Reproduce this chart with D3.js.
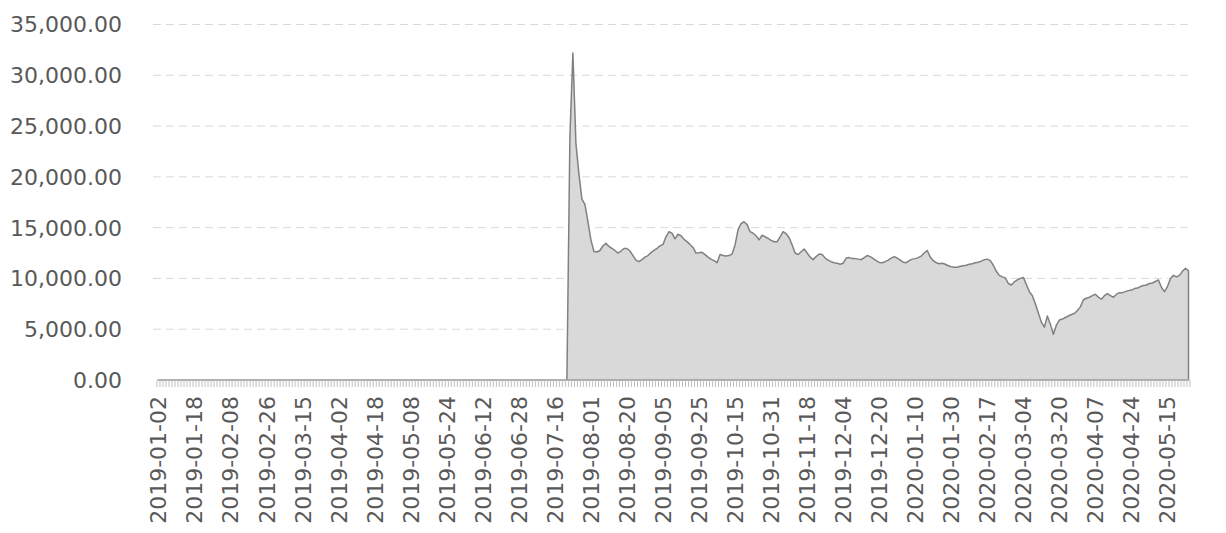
<!DOCTYPE html>
<html lang="en">
<head>
    <meta charset="UTF-8">
    <title>Price</title>
    <style>
        body { margin: 0; background: #fff; }
        text { font-family: "DejaVu Sans", sans-serif; font-size: 22px; fill: #595959; }
        .grid line { stroke: #d9d9d9; stroke-width: 1; stroke-dasharray: 8 5; }
    </style>
</head>
<body>
    <script src="https://cdn.jsdelivr.net/npm/d3@7/dist/d3.min.js"></script>
    <script>
        // trading calendar (KRX): weekdays between these dates, minus closed days
        var firstDay = "2019-01-02";
        var lastDay = "2020-05-26";
        var holidays = [
            "2019-02-04", "2019-02-05", "2019-02-06", "2019-03-01", "2019-05-01", "2019-05-06",
            "2019-06-06", "2019-08-15", "2019-09-12", "2019-09-13", "2019-10-03", "2019-10-09",
            "2019-12-25", "2019-12-31", "2020-01-01", "2020-01-24", "2020-01-27", "2020-04-15",
            "2020-04-30", "2020-05-01", "2020-05-05"
        ];

        var tickLabels = [
            "2019-01-02", "2019-01-18", "2019-02-08", "2019-02-26", "2019-03-15", "2019-04-02",
            "2019-04-18", "2019-05-08", "2019-05-24", "2019-06-12", "2019-06-28", "2019-07-16",
            "2019-08-01", "2019-08-20", "2019-09-05", "2019-09-25", "2019-10-15", "2019-10-31",
            "2019-11-18", "2019-12-04", "2019-12-20", "2020-01-10", "2020-01-30", "2020-02-17",
            "2020-03-04", "2020-03-20", "2020-04-07", "2020-04-24", "2020-05-15"
        ];

        var yTicks = [0, 5000, 10000, 15000, 20000, 25000, 30000, 35000];

        // one value per trading day; 0 before listing
        var values = [
            0, 0, 0, 0, 0, 0, 0, 0, 0, 0, 0, 0, 0, 0, 0, 0, 0, 0, 0, 0,
            0, 0, 0, 0, 0, 0, 0, 0, 0, 0, 0, 0, 0, 0, 0, 0, 0, 0, 0, 0,
            0, 0, 0, 0, 0, 0, 0, 0, 0, 0, 0, 0, 0, 0, 0, 0, 0, 0, 0, 0,
            0, 0, 0, 0, 0, 0, 0, 0, 0, 0, 0, 0, 0, 0, 0, 0, 0, 0, 0, 0,
            0, 0, 0, 0, 0, 0, 0, 0, 0, 0, 0, 0, 0, 0, 0, 0, 0, 0, 0, 0,
            0, 0, 0, 0, 0, 0, 0, 0, 0, 0, 0, 0, 0, 0, 0, 0, 0, 0, 0, 0,
            0, 0, 0, 0, 0, 0, 0, 0, 0, 0, 0, 0, 0, 0, 0, 0, 0,
            23900, 32200, 23300, 20300, 17800, 17300, 15600, 13800, 12650, 12600,
            12750, 13200, 13450, 13150, 12950, 12750, 12500, 12700, 12950, 12950,
            12700, 12250, 11800, 11650, 11850, 12100, 12250, 12550, 12750, 12950,
            13200, 13350, 14100, 14600, 14450, 13900, 14350, 14200, 13850, 13620,
            13350, 13050, 12500, 12520, 12570, 12350, 12100, 11900, 11750, 11550,
            12350, 12250, 12200, 12250, 12400, 13300, 14800, 15400, 15580, 15300,
            14600, 14450, 14200, 13800, 14250, 14100, 13950, 13750, 13610, 13610,
            14100, 14600, 14400, 14000, 13300, 12500, 12350, 12630, 12900, 12500,
            12100, 11850, 12150, 12400, 12350, 12000, 11800, 11650, 11550, 11500,
            11400, 11500, 12000, 12050, 11950, 11950, 11900, 11850, 12050, 12250,
            12150, 11950, 11750, 11580, 11550, 11650, 11800, 12000, 12150, 12000,
            11800, 11600, 11550, 11750, 11900, 11950, 12050, 12200, 12500, 12750,
            12100, 11750, 11550, 11450, 11500, 11400, 11250, 11150, 11100, 11100,
            11200, 11250, 11300, 11400, 11450, 11550, 11600, 11700, 11850, 11900,
            11750, 11300, 10700, 10300, 10150, 10050, 9500, 9350, 9650, 9850,
            10000, 10100, 9400, 8700, 8300, 7500, 6600, 5700, 5200, 6300,
            5500, 4500, 5400, 5900, 6000, 6150, 6300, 6450, 6550, 6850,
            7200, 7900, 8050, 8150, 8300, 8450, 8150, 7950, 8300, 8500,
            8300, 8150, 8450, 8600, 8600, 8700, 8800, 8850, 9000, 9050,
            9200, 9300, 9350, 9500, 9550, 9700, 9850, 9100, 8700, 9200,
            10000, 10300, 10150, 10300, 10700, 11000, 10750
        ];

        var width = 1226;
        var height = 533;
        var plotLeft = 157, plotRight = 1190, plotTop = 24.5, plotBottom = 380;

        var fmt = d3.utcFormat("%Y-%m-%d");
        var days = d3.utcDays(new Date(firstDay), d3.utcDay.offset(new Date(lastDay), 1))
            .filter(function(d) { return d.getUTCDay() % 6 !== 0; })
            .map(fmt)
            .filter(function(s) { return holidays.indexOf(s) < 0; });

        var data = days.map(function(d, i) { return { date: d, value: values[i] }; });

        var svg = d3.select("body")
                    .append("svg")
                    .attr("width", width)
                    .attr("height", height);

        var x = d3.scalePoint().domain(days).range([plotLeft, plotRight]).padding(0.5);
        var y = d3.scaleLinear().domain([0, 35000]).range([plotBottom, plotTop]);

        // dashed gridlines
        svg.append("g")
            .attr("class", "grid")
            .selectAll("line")
            .data(yTicks.slice(1))
            .enter()
            .append("line")
            .attr("x1", plotLeft - 4)
            .attr("x2", plotRight + 2)
            .attr("y1", function(d) { return y(d); })
            .attr("y2", function(d) { return y(d); });

        // y labels
        svg.append("g")
            .selectAll("text")
            .data(yTicks)
            .enter()
            .append("text")
            .attr("x", 122)
            .attr("y", function(d) { return y(d); })
            .attr("dy", "0.36em")
            .attr("text-anchor", "end")
            .text(d3.format(",.2f"));

        // area
        var area = d3.area()
            .x(function(d) { return x(d.date); })
            .y0(y(0))
            .y1(function(d) { return y(d.value); });

        svg.append("path")
            .datum(data)
            .attr("d", area)
            .attr("fill", "#d9d9d9")
            .attr("stroke", "#808080")
            .attr("stroke-width", 1.5)
            .attr("stroke-linejoin", "round");

        // category axis: line + a tick between every category
        var step = x.step();
        var axis = svg.append("g");
        axis.append("line")
            .attr("x1", plotLeft).attr("x2", plotRight)
            .attr("y1", plotBottom).attr("y2", plotBottom)
            .attr("stroke", "#bfbfbf");
        axis.selectAll("line.tick")
            .data(d3.range(days.length + 1))
            .enter()
            .append("line")
            .attr("class", "tick")
            .attr("x1", function(i) { return plotLeft + i * step; })
            .attr("x2", function(i) { return plotLeft + i * step; })
            .attr("y1", plotBottom)
            .attr("y2", plotBottom + 7)
            .attr("stroke", "#bfbfbf");

        axis.selectAll("text")
            .data(tickLabels)
            .enter()
            .append("text")
            .attr("transform", function(d) { return "translate(" + x(d) + "," + (plotBottom + 16) + ") rotate(-90)"; })
            .attr("dy", "0.36em")
            .attr("text-anchor", "end")
            .text(function(d) { return d; });
    </script>
</body>
</html>
